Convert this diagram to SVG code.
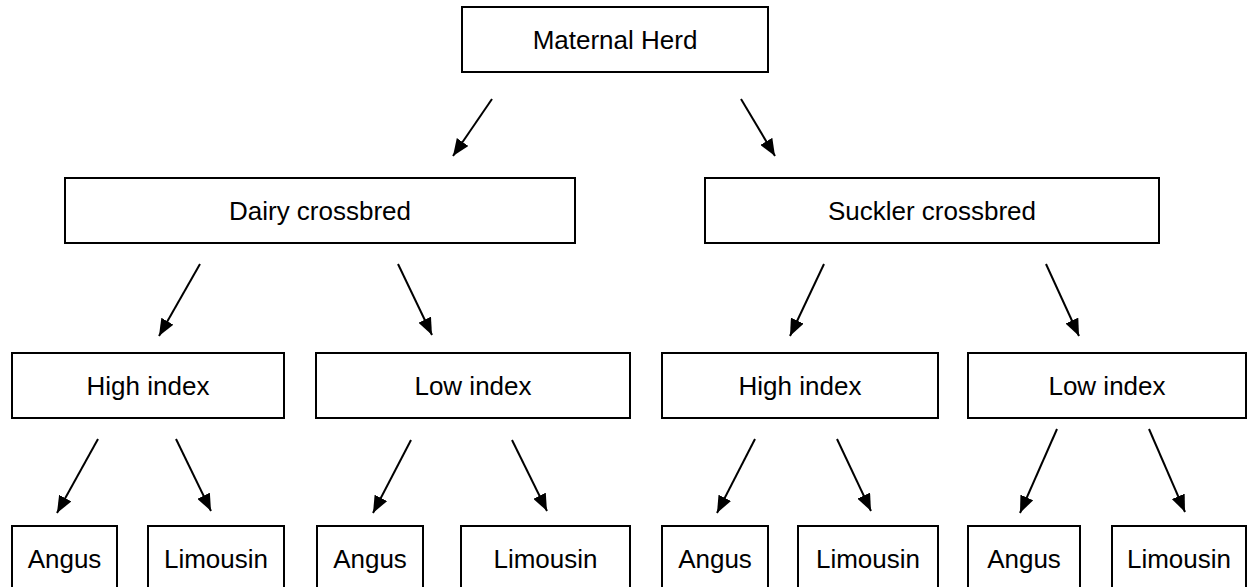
<svg xmlns="http://www.w3.org/2000/svg" width="1247" height="587" viewBox="0 0 1247 587">
<style>
.box{fill:#fff;stroke:#000;stroke-width:2}
.lbl{font-family:"Liberation Sans",Arial,sans-serif;font-size:26px;fill:#000;text-anchor:middle}
.arr{stroke:#000;stroke-width:2;fill:none;marker-end:url(#ah)}
</style>
<defs>
<marker id="ah" viewBox="0 0 17 14" refX="17" refY="7" markerWidth="17" markerHeight="14" markerUnits="userSpaceOnUse" orient="auto">
<path d="M0,0 L17,7 L0,14 z" fill="#000"/>
</marker>
</defs>
<rect width="1247" height="587" fill="#fff"/>
<g id="n-maternal"><rect class="box" x="462" y="7" width="306" height="65"/><text class="lbl" x="615" y="49">Maternal Herd</text></g>
<g id="n-dairy"><rect class="box" x="65" y="178" width="510" height="65"/><text class="lbl" x="320" y="220">Dairy crossbred</text></g>
<g id="n-suckler"><rect class="box" x="705" y="178" width="454" height="65"/><text class="lbl" x="932" y="220">Suckler crossbred</text></g>
<g id="n-high1"><rect class="box" x="12" y="353" width="272" height="65"/><text class="lbl" x="148" y="395">High index</text></g>
<g id="n-low1"><rect class="box" x="316" y="353" width="314" height="65"/><text class="lbl" x="473" y="395">Low index</text></g>
<g id="n-high2"><rect class="box" x="662" y="353" width="276" height="65"/><text class="lbl" x="800" y="395">High index</text></g>
<g id="n-low2"><rect class="box" x="968" y="353" width="278" height="65"/><text class="lbl" x="1107" y="395">Low index</text></g>
<g id="n-angus1"><rect class="box" x="12" y="526" width="105" height="80"/><text class="lbl" x="64.5" y="568">Angus</text></g>
<g id="n-lim1"><rect class="box" x="148" y="526" width="136" height="80"/><text class="lbl" x="216" y="568">Limousin</text></g>
<g id="n-angus2"><rect class="box" x="317" y="526" width="106" height="80"/><text class="lbl" x="370" y="568">Angus</text></g>
<g id="n-lim2"><rect class="box" x="461" y="526" width="169" height="80"/><text class="lbl" x="545.5" y="568">Limousin</text></g>
<g id="n-angus3"><rect class="box" x="662" y="526" width="106" height="80"/><text class="lbl" x="715" y="568">Angus</text></g>
<g id="n-lim3"><rect class="box" x="798" y="526" width="140" height="80"/><text class="lbl" x="868" y="568">Limousin</text></g>
<g id="n-angus4"><rect class="box" x="968" y="526" width="112" height="80"/><text class="lbl" x="1024" y="568">Angus</text></g>
<g id="n-lim4"><rect class="box" x="1112" y="526" width="134" height="80"/><text class="lbl" x="1179" y="568">Limousin</text></g>
<g id="connectors">
<line class="arr" x1="492" y1="99" x2="453" y2="156"/>
<line class="arr" x1="741" y1="99" x2="775" y2="156"/>
<line class="arr" x1="200" y1="264" x2="159" y2="336"/>
<line class="arr" x1="398" y1="264" x2="432" y2="335"/>
<line class="arr" x1="824" y1="264" x2="790" y2="336"/>
<line class="arr" x1="1046" y1="264" x2="1079" y2="336"/>
<line class="arr" x1="98" y1="439" x2="57" y2="513"/>
<line class="arr" x1="176" y1="439" x2="211" y2="511"/>
<line class="arr" x1="411" y1="440" x2="373" y2="513"/>
<line class="arr" x1="512" y1="440" x2="547" y2="511"/>
<line class="arr" x1="755" y1="439" x2="717" y2="513"/>
<line class="arr" x1="837" y1="439" x2="871" y2="511"/>
<line class="arr" x1="1057" y1="429" x2="1020" y2="513"/>
<line class="arr" x1="1149" y1="429" x2="1185" y2="512"/>
</g>
</svg>
